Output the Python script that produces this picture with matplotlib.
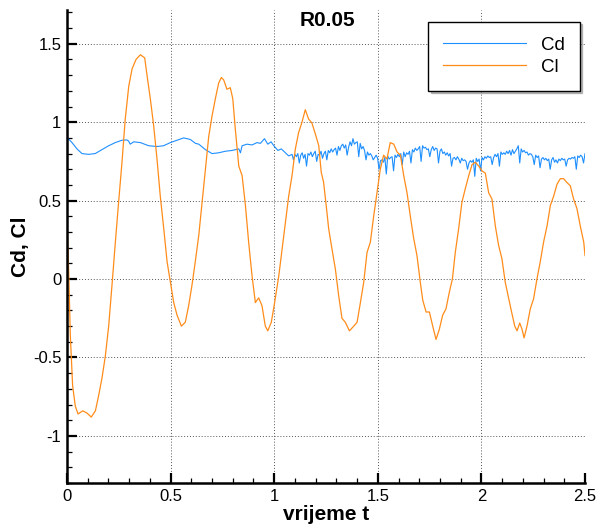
import numpy as np
import matplotlib
matplotlib.use("Agg")
import matplotlib.pyplot as plt
from matplotlib.ticker import MultipleLocator, StrMethodFormatter

plt.rcParams["font.family"] = ["Liberation Sans", "DejaVu Sans"]
plt.rcParams["axes.unicode_minus"] = False

# Cl (lift coefficient)
cl_t = [0.0, 0.008, 0.016, 0.027, 0.040, 0.053, 0.076, 0.097, 0.117, 0.137,
        0.153, 0.169, 0.185, 0.201, 0.217, 0.233, 0.249, 0.265, 0.281, 0.298,
        0.314, 0.333, 0.354, 0.375, 0.386, 0.402, 0.418, 0.434, 0.450, 0.467,
        0.483, 0.499, 0.515, 0.531, 0.552, 0.571, 0.587, 0.603, 0.619, 0.636,
        0.652, 0.668, 0.684, 0.700, 0.716, 0.732, 0.745, 0.756, 0.772, 0.788,
        0.800, 0.812, 0.829, 0.845, 0.861, 0.877, 0.893, 0.909, 0.925, 0.941,
        0.957, 0.969, 0.986, 1.002, 1.022, 1.038, 1.054, 1.070, 1.086, 1.102,
        1.118, 1.134, 1.150, 1.166, 1.182, 1.202, 1.215, 1.227, 1.238, 1.250,
        1.263, 1.279, 1.295, 1.311, 1.327, 1.343, 1.363, 1.384, 1.400, 1.416,
        1.432, 1.448, 1.464, 1.480, 1.496, 1.512, 1.528, 1.544, 1.560, 1.577,
        1.593, 1.609, 1.625, 1.641, 1.657, 1.673, 1.689, 1.705, 1.717, 1.733,
        1.749, 1.765, 1.781, 1.797, 1.813, 1.829, 1.845, 1.860, 1.874, 1.890,
        1.906, 1.922, 1.939, 1.955, 1.971, 1.987, 2.003, 2.019, 2.035, 2.051,
        2.067, 2.083, 2.099, 2.115, 2.132, 2.144, 2.161, 2.172, 2.185, 2.196,
        2.206, 2.220, 2.236, 2.252, 2.268, 2.284, 2.300, 2.317, 2.333, 2.349,
        2.365, 2.381, 2.397, 2.413, 2.429, 2.445, 2.461, 2.477, 2.494, 2.500]
cl = [0.37, 0.05, -0.36, -0.68, -0.81, -0.86, -0.84, -0.855, -0.88, -0.84,
      -0.74, -0.63, -0.49, -0.30, -0.04, 0.23, 0.49, 0.74, 1.02, 1.23,
      1.34, 1.40, 1.43, 1.41, 1.30, 1.15, 0.98, 0.77, 0.53, 0.32,
      0.11, -0.02, -0.15, -0.23, -0.30, -0.275, -0.17, -0.04, 0.11, 0.28,
      0.49, 0.70, 0.91, 1.04, 1.15, 1.25, 1.285, 1.27, 1.21, 1.22,
      1.15, 0.96, 0.72, 0.66, 0.47, 0.23, 0.02, -0.15, -0.12, -0.17,
      -0.30, -0.33, -0.275, -0.15, 0.02, 0.19, 0.36, 0.53, 0.66, 0.83,
      0.935, 1.0, 1.08, 1.02, 0.995, 0.91, 0.85, 0.68, 0.62, 0.48,
      0.32, 0.19, 0.065, -0.105, -0.25, -0.275, -0.33, -0.30, -0.275, -0.15,
      -0.02, 0.17, 0.235, 0.40, 0.55, 0.70, 0.79, 0.765, 0.87, 0.86,
      0.81, 0.79, 0.66, 0.55, 0.40, 0.26, 0.15, -0.02, -0.135, -0.21,
      -0.21, -0.30, -0.385, -0.32, -0.23, -0.19, -0.085, 0.0, 0.17, 0.32,
      0.49, 0.575, 0.66, 0.73, 0.745, 0.72, 0.69, 0.675, 0.55, 0.51,
      0.34, 0.215, 0.13, -0.02, -0.125, -0.20, -0.30, -0.33, -0.28, -0.32,
      -0.375, -0.30, -0.19, -0.125, 0.0, 0.11, 0.235, 0.34, 0.47, 0.53,
      0.605, 0.64, 0.64, 0.615, 0.595, 0.51, 0.45, 0.34, 0.235, 0.15]

# Cd (drag coefficient), smooth start
cd_t_start = [0.0, 0.024, 0.048, 0.072, 0.104, 0.136, 0.169, 0.201, 0.233, 0.265,
              0.289, 0.297, 0.305, 0.322, 0.354, 0.394, 0.434, 0.466, 0.499, 0.531,
              0.563, 0.595, 0.620, 0.636, 0.668, 0.700, 0.732, 0.765, 0.797, 0.829,
              0.837, 0.845, 0.869, 0.893, 0.917, 0.933, 0.953, 0.969, 0.985, 0.998,
              1.018, 1.034, 1.054, 1.070, 1.086, 1.093]
cd_start = [0.903, 0.87, 0.83, 0.80, 0.795, 0.80, 0.825, 0.85, 0.87, 0.885,
            0.887, 0.88, 0.86, 0.875, 0.87, 0.85, 0.845, 0.85, 0.87, 0.885,
            0.90, 0.89, 0.865, 0.86, 0.825, 0.80, 0.805, 0.815, 0.82, 0.83,
            0.805, 0.85, 0.86, 0.855, 0.87, 0.865, 0.895, 0.86, 0.875, 0.85,
            0.82, 0.83, 0.805, 0.785, 0.795, 0.76]

# Cd, noisy part sampled every cd_step from t = 1.10
cd_noisy_t0 = 1.10
cd_step = 0.007
cd_noisy = [
    0.795, 0.78, 0.80, 0.74, 0.79, 0.805, 0.77, 0.795, 0.72, 0.80,
    0.79, 0.81, 0.78, 0.80, 0.815, 0.75, 0.795, 0.79, 0.815, 0.77,
    0.80, 0.815, 0.76, 0.82, 0.805, 0.83, 0.81, 0.825, 0.835, 0.79,
    0.845, 0.82, 0.85, 0.86, 0.835, 0.855, 0.79, 0.84, 0.875, 0.85,
    0.895, 0.86, 0.87, 0.875, 0.78, 0.865, 0.83, 0.845, 0.82, 0.76,
    0.81, 0.79, 0.80, 0.785, 0.76, 0.775, 0.79, 0.77, 0.70, 0.755,
    0.76, 0.745, 0.775, 0.67, 0.785, 0.765, 0.775, 0.78, 0.69, 0.79,
    0.775, 0.795, 0.78, 0.80, 0.73, 0.81, 0.78, 0.805, 0.795, 0.815,
    0.74, 0.825, 0.81, 0.835, 0.82, 0.83, 0.845, 0.75, 0.85, 0.835,
    0.84, 0.825, 0.83, 0.78, 0.825, 0.845, 0.82, 0.835, 0.83, 0.74,
    0.815, 0.83, 0.80, 0.81, 0.79, 0.805, 0.785, 0.80, 0.72, 0.77,
    0.775, 0.76, 0.78, 0.765, 0.74, 0.77, 0.755, 0.76, 0.75, 0.70,
    0.74, 0.755, 0.745, 0.76, 0.655, 0.77, 0.75, 0.765, 0.69, 0.775,
    0.76, 0.78, 0.77, 0.785, 0.775, 0.78, 0.73, 0.775, 0.795, 0.78,
    0.80, 0.72, 0.81, 0.795, 0.805, 0.795, 0.815, 0.80, 0.82, 0.79,
    0.825, 0.80, 0.815, 0.83, 0.85, 0.74, 0.83, 0.81, 0.82, 0.805,
    0.81, 0.79, 0.80, 0.795, 0.78, 0.73, 0.79, 0.775, 0.785, 0.71,
    0.765, 0.775, 0.76, 0.77, 0.755, 0.765, 0.70, 0.76, 0.775, 0.745,
    0.76, 0.74, 0.765, 0.755, 0.77, 0.76, 0.765, 0.72, 0.76, 0.77,
    0.765, 0.775, 0.77, 0.78, 0.70, 0.785, 0.775, 0.79, 0.78, 0.74,
    0.80]

cd_t = np.concatenate([cd_t_start, cd_noisy_t0 + cd_step * np.arange(len(cd_noisy))])
cd = np.concatenate([cd_start, cd_noisy])

fig = plt.figure(figsize=(6.0, 5.29), dpi=100)
ax = fig.add_axes([0.1117, 0.087, 0.8633, 0.894])

ax.plot(cd_t, cd, color="#1e8fff", lw=0.8, label="Cd")
ax.plot(cl_t, cl, color="#ff8c1a", lw=0.9, label="Cl")

ax.set_xlim(0, 2.5)
ax.set_ylim(-1.3, 1.715)
ax.xaxis.set_major_locator(MultipleLocator(0.5))
ax.xaxis.set_minor_locator(MultipleLocator(0.1))
ax.yaxis.set_major_locator(MultipleLocator(0.5))
ax.yaxis.set_minor_locator(MultipleLocator(0.1))
ax.xaxis.set_major_formatter(StrMethodFormatter("{x:g}"))
ax.yaxis.set_major_formatter(StrMethodFormatter("{x:g}"))
ax.tick_params(which="major", direction="in", length=7, width=1.6, labelsize=12, pad=4)
ax.tick_params(which="minor", direction="in", length=3.5, width=0.9)

for s in ("top", "right"):
    ax.spines[s].set_visible(False)
for s in ("left", "bottom"):
    ax.spines[s].set_linewidth(1.8)

ax.grid(True, which="major", color="#555555", linestyle=(0, (1, 2)), lw=0.7)

ax.set_xlabel("vrijeme t", fontsize=15, fontweight="bold", labelpad=1)
ax.set_ylabel("Cd, Cl", fontsize=15, fontweight="bold", labelpad=2)
ax.text(1.257, 1.646, "R0.05", fontsize=15, fontweight="bold", ha="center", va="center")

leg = ax.legend(loc="upper right", bbox_to_anchor=(0.99, 0.975), borderaxespad=0,
                fontsize=13.5, handlelength=4.4, handletextpad=0.8, labelspacing=0.26,
                fancybox=False, shadow={"ox": 1.5, "oy": -1.5, "shade": 0.5},
                framealpha=1, borderpad=0.8)
leg.get_frame().set_edgecolor("black")
leg.get_frame().set_linewidth(1.0)

fig.savefig("out.png", dpi=100)
